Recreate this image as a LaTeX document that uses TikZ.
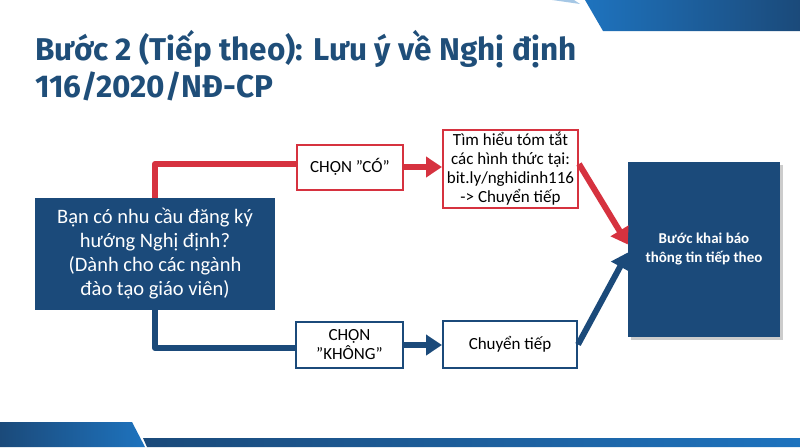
\documentclass[tikz,border=0pt]{standalone}
\usepackage{fontspec}
\setmainfont{Carlito}[Ligatures=ResetAll]
\newfontfamily\titlefont{Fira Sans}
\usetikzlibrary{arrows.meta,shadows}
\definecolor{navy}{HTML}{1B4A7A}
\definecolor{rd}{HTML}{D6323F}
\definecolor{ttl}{HTML}{1F4E79}
\definecolor{lb}{HTML}{1E73BE}
\newcommand{\dq}{\symbol{34}}
\begin{document}
\begin{tikzpicture}[x=1pt,y=-1pt,
  rbox/.style={draw=rd,line width=2pt,fill=white,minimum width=#1,align=center,inner sep=2pt,font=\fontsize{17}{19}\selectfont},
  bbox/.style={draw=navy,line width=2pt,fill=white,minimum width=#1,align=center,inner sep=2pt,font=\fontsize{17}{19}\selectfont},
  rline/.style={draw=rd,line width=6pt},
  bline/.style={draw=navy,line width=6pt},
  tip/.style={-{Triangle[length=16pt,width=20pt]}}]
\useasboundingbox (0,0) rectangle (800,447);
\fill[white] (0,0) rectangle (800,447);
% decorative bands
\shade[left color=lb,right color=navy] (585,0) -- (800,0) -- (800,31) -- (603,31) -- cycle;
\fill[lb!40] (552,0) -- (574,0) -- (580,4) -- cycle;
\shade[left color=navy,right color=lb] (0,422) -- (132,422) -- (145,447) -- (0,447) -- cycle;
\shade[left color=navy,right color=lb] (143,438) -- (800,438) -- (800,447) -- (147,447) -- cycle;
% title
\node[anchor=base west,text=ttl,font=\titlefont\bfseries\fontsize{31.5}{36}\selectfont,inner sep=0] (t1) at (35,60) {Bước 2 (Tiếp theo): Lưu ý về Nghị định};
\node[anchor=base west,text=ttl,font=\titlefont\bfseries\fontsize{31.5}{36}\selectfont,inner sep=0] (t2) at (35,97) {116/2020/NĐ-CP};
% coordinates
\coordinate (rc) at (155,164);
\coordinate (bc) at (155,348);
% connectors behind
\draw[rline,line join=round] (155,200) -- (rc) -- (300,164);
\draw[bline,line join=round] (155,300) -- (bc) -- (300,348);
% left box
\node[fill=navy,minimum width=240pt,minimum height=112pt,text=white,align=center,font=\fontsize{20.5}{24}\selectfont] (q) at (155,254) {Bạn có nhu cầu đăng ký\\hướng Nghị định?\\(Dành cho các ngành\\đào tạo giáo viên)};
% boxes
\node[rbox=106pt,minimum height=45pt] (co) at (350,167) {CHỌN \dq CÓ\dq};
\node[rbox=135pt,minimum height=78pt] (info) at (510.5,169) {Tìm hiểu tóm tắt\\các hình thức tại:\\bit.ly/nghidinh116\\-> Chuyển tiếp};
\node[bbox=107pt,minimum height=46pt] (khong) at (349.5,345) {CHỌN\\\dq KHÔNG\dq};
\node[bbox=134pt,minimum height=47pt] (ct) at (510,344.5) {Chuyển tiếp};
\node[fill=navy,minimum width=152pt,minimum height=175pt,text=white,align=center,font=\bfseries\fontsize{15}{19}\selectfont,drop shadow={shadow xshift=3pt,shadow yshift=-3pt,opacity=0.4}] (next) at (704,249.5) {Bước khai báo\\thông tin tiếp theo};
% arrows
\draw[rline,tip] (co.east) -- (info.west |- co.east);
\draw[bline,tip] (khong.east) -- (ct.west |- khong.east);
\draw[rline,tip] ([yshift=5pt]info.east) -- ([yshift=5pt]next.west);
\draw[bline,tip] (ct.east) -- ([yshift=-3pt]next.west);
\end{tikzpicture}
\end{document}
